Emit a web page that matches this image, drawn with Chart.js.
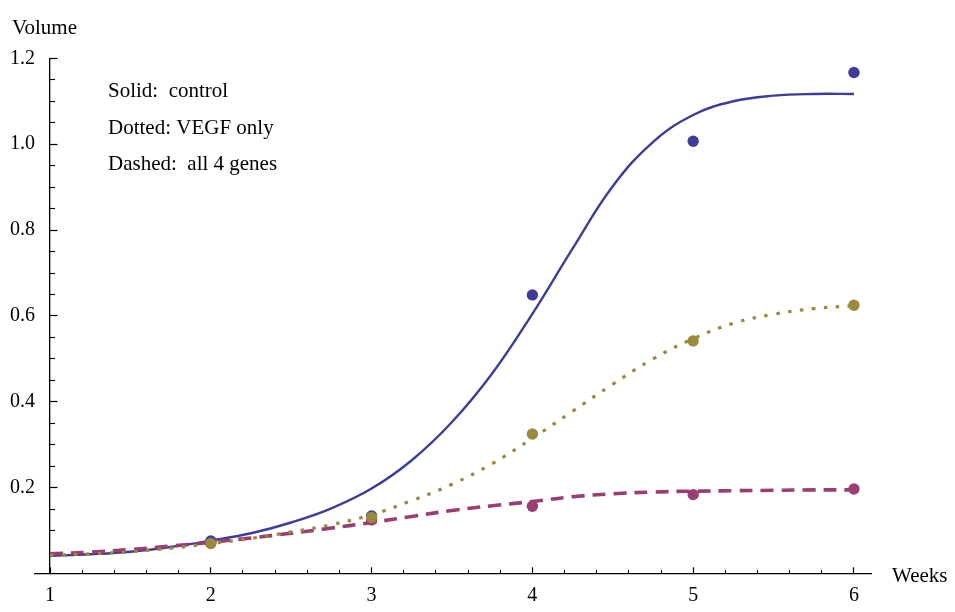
<!DOCTYPE html>
<html>
<head>
<meta charset="utf-8">
<script src="https://cdn.jsdelivr.net/npm/chart.js@4.4.0/dist/chart.umd.min.js"></script>
<style>
html,body{margin:0;padding:0;background:#ffffff;}
#wrap{width:955px;height:612px;}
</style>
</head>
<body>
<div id="wrap"><canvas id="c" width="955" height="612"></canvas></div>
<script>
// ---- data ----
const curveWeeks   = [1, 1.25, 1.5, 1.75, 2, 2.25, 2.5, 2.75, 3, 3.25, 3.5, 3.75, 4, 4.25, 4.5, 4.75, 5, 5.25, 5.5, 5.75, 6];
const controlCurve = [0.041, 0.045, 0.051, 0.062, 0.077, 0.094, 0.119, 0.152, 0.198, 0.264, 0.353, 0.466, 0.605, 0.757, 0.902, 1.005, 1.068, 1.100, 1.113, 1.117, 1.117];
const vegfCurve    = [0.043, 0.046, 0.051, 0.059, 0.070, 0.082, 0.097, 0.114, 0.137, 0.170, 0.208, 0.256, 0.315, 0.378, 0.441, 0.500, 0.547, 0.583, 0.604, 0.617, 0.624];
const genesCurve   = [0.046, 0.050, 0.056, 0.064, 0.073, 0.083, 0.094, 0.106, 0.119, 0.133, 0.147, 0.158, 0.168, 0.179, 0.186, 0.190, 0.192, 0.193, 0.194, 0.195, 0.195];

const pointWeeks    = [2, 3, 4, 5, 6];
const controlPoints = [0.076, 0.134, 0.649, 1.007, 1.167];
const vegfPoints    = [0.070, 0.131, 0.325, 0.542, 0.625];
const genesPoints   = [0.072, 0.125, 0.157, 0.184, 0.197];

const xMajorTicks = [1, 2, 3, 4, 5, 6];
const xMinorTicks = [1.2, 1.4, 1.6, 1.8, 2.2, 2.4, 2.6, 2.8, 3.2, 3.4, 3.6, 3.8, 4.2, 4.4, 4.6, 4.8, 5.2, 5.4, 5.6, 5.8];
const yMajorTicks = [0.2, 0.4, 0.6, 0.8, 1.0, 1.2];
const yMinorTicks = [0.05, 0.1, 0.15, 0.25, 0.3, 0.35, 0.45, 0.5, 0.55, 0.65, 0.7, 0.75, 0.85, 0.9, 0.95, 1.05, 1.1, 1.15];

const xTitle = 'Weeks';
const yTitle = 'Volume';
const legendLines = ['Solid:  control', 'Dotted: VEGF only', 'Dashed:  all 4 genes'];

// ---- styling ----
const BLUE = '#3d3d99';
const OLIVE = '#998a3d';
const MAGENTA = '#993d72';
const SERIF = '"Liberation Serif", "Times New Roman", serif';

const pairs = (xs, ys) => xs.map((x, i) => ({x: x, y: ys[i]}));

function lineSet(label, ys, color, width, dash, order) {
  return {
    type: 'line', label: label, data: pairs(curveWeeks, ys),
    borderColor: color, borderWidth: width, borderDash: dash, borderCapStyle: 'butt',
    pointRadius: 0, fill: false, tension: 0.4,
    xAxisID: 'x', yAxisID: 'y', order: order
  };
}
function dotSet(label, ys, color, order) {
  return {
    type: 'scatter', label: label, data: pairs(pointWeeks, ys),
    backgroundColor: color, borderColor: color, borderWidth: 0,
    pointRadius: 5.7, pointHoverRadius: 5.7, showLine: false,
    xAxisID: 'x', yAxisID: 'y', order: order
  };
}

const setTicks = (arr) => (scale) => { scale.ticks = arr.map(v => ({value: v})); };

const textPlugin = {
  id: 'texts',
  afterDraw(chart) {
    const c = chart.ctx;
    c.save();
    c.fillStyle = '#000';
    c.textAlign = 'left';
    c.textBaseline = 'alphabetic';
    c.font = '21px ' + SERIF;
    c.fillText(yTitle, 12, 34);
    c.fillText(xTitle, 892, 582);
    const baselines = [97, 134, 170];
    legendLines.forEach((t, i) => c.fillText(t, 108, baselines[i]));
    c.restore();
  }
};

new Chart(document.getElementById('c').getContext('2d'), {
  data: {
    datasets: [
      dotSet('VEGF only points', vegfPoints, OLIVE, 0),
      dotSet('control points', controlPoints, BLUE, 1),
      dotSet('all 4 genes points', genesPoints, MAGENTA, 2),
      lineSet('VEGF only', vegfCurve, OLIVE, 3.2, [3.5, 8.5], 3),
      lineSet('all 4 genes', genesCurve, MAGENTA, 3.6, [13, 8], 4),
      lineSet('control', controlCurve, BLUE, 2.4, [], 5)
    ]
  },
  options: {
    responsive: false,
    animation: false,
    events: [],
    layout: {padding: {left: 0, right: 84, top: 58.3, bottom: 38.4}},
    plugins: {legend: {display: false}, tooltip: {enabled: false}},
    scales: {
      y: {
        type: 'linear', axis: 'y', position: 'left', min: 0, max: 1.2,
        afterBuildTicks: setTicks(yMajorTicks),
        afterFit: (s) => { s.width = 35; },
        border: {display: false},
        grid: {display: false, drawTicks: false},
        ticks: {padding: 0, color: '#000', font: {family: SERIF, size: 20}, callback: (v) => Number(v).toFixed(1)}
      },
      yAxis: {
        type: 'linear', axis: 'y', position: {x: 1}, min: 0, max: 1.2,
        afterBuildTicks: setTicks(yMajorTicks),
        border: {display: true, color: '#000', width: 1.3},
        grid: {display: true, drawOnChartArea: false, drawTicks: true, tickLength: -8.5, tickColor: '#000', tickWidth: 1.2},
        ticks: {display: false}
      },
      yMinor: {
        type: 'linear', axis: 'y', position: {x: 1}, min: 0, max: 1.2,
        afterBuildTicks: setTicks(yMinorTicks),
        border: {display: false},
        grid: {display: true, drawOnChartArea: false, drawTicks: true, tickLength: -5, tickColor: '#000', tickWidth: 1.1},
        ticks: {display: false}
      },
      x: {
        type: 'linear', axis: 'x', position: {y: 0}, min: 0.9067, max: 6.106,
        afterBuildTicks: setTicks(xMajorTicks),
        border: {display: true, color: '#000', width: 1.3},
        grid: {display: true, drawOnChartArea: false, drawTicks: true, tickLength: -7, tickColor: '#000', tickWidth: 1.2},
        ticks: {padding: 17.4, color: '#000', font: {family: SERIF, size: 20}, maxRotation: 0, autoSkip: false, callback: (v) => String(v)}
      },
      xMinor: {
        type: 'linear', axis: 'x', position: {y: 0}, min: 0.9067, max: 6.106,
        afterBuildTicks: setTicks(xMinorTicks),
        border: {display: false},
        grid: {display: true, drawOnChartArea: false, drawTicks: true, tickLength: -4, tickColor: '#000', tickWidth: 1.1},
        ticks: {display: false}
      }
    }
  },
  plugins: [textPlugin]
});
</script>
</body>
</html>
